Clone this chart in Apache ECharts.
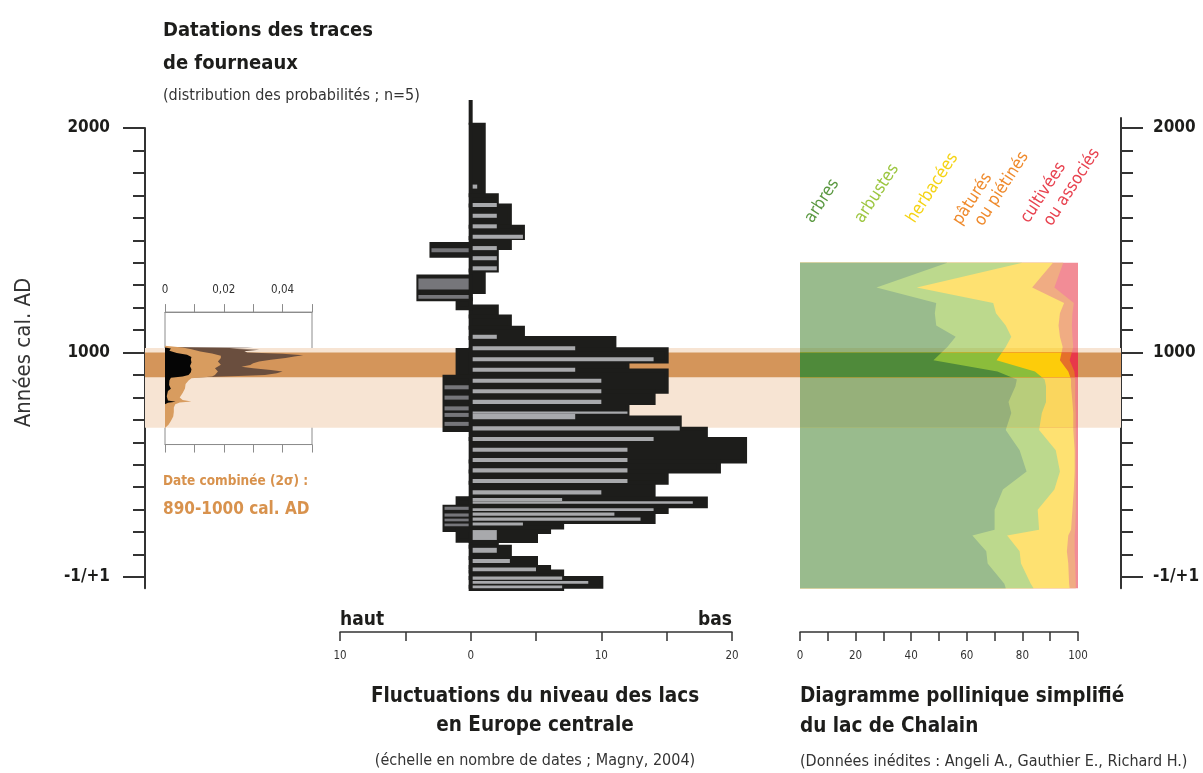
<!DOCTYPE html>
<html>
<head>
<meta charset="utf-8">
<script src="https://cdn.jsdelivr.net/npm/echarts@6/dist/echarts.min.js"></script>
<style>
html, body { margin: 0; padding: 0; background: #fff; }
#chart { width: 1203px; height: 773px; }
</style>
</head>
<body>
<div id="chart"></div>
<script>
const FONT = "'Liberation Sans Narrow', 'DejaVu Sans Condensed', Roboto, sans-serif";
const INK = '#1d1d1b';

// ---- Time axis (years cal. AD) ----
const yearMin = -50;
const yearMax = 2000;
const yearLabels = { 0: '-1/+1', 1000: '1000', 2000: '2000' };

// ---- Dating of the furnace traces ----
const combinedDate = [890, 1000];   // combined date, 2 sigma
const datingSpan = [665, 1020];     // spread of the individual dates

// probability distributions (year, probability)
const brownYears = [1025, 1021, 1017, 1012, 1006, 1000, 994, 988, 982, 975, 968, 960, 952, 944, 936, 930, 922, 915, 908, 900, 895, 890, 885];
const brownProb  = [0, 0.030, 0.022, 0.032, 0.027, 0.028, 0.040, 0.047, 0.044, 0.041, 0.036, 0.032, 0.030, 0.029, 0.026, 0.030, 0.036, 0.040, 0.038, 0.034, 0.025, 0.012, 0];

const tanYears = [1030, 1022, 1015, 1005, 995, 985, 975, 960, 945, 930, 915, 900, 893, 885, 875, 860, 840, 820, 800, 788, 782, 777, 770, 755, 735, 715, 695, 678, 664];
const tanProb  = [0, 0.006, 0.009, 0.012, 0.016, 0.019, 0.019, 0.018, 0.019, 0.017, 0.018, 0.017, 0.016, 0.009, 0.008, 0.007, 0.0068, 0.006, 0.005, 0.006, 0.009, 0.005, 0.0035, 0.003, 0.003, 0.0028, 0.002, 0.0012, 0];

const blackYears = [1022, 1018, 1008, 998, 990, 980, 970, 955, 940, 925, 912, 900, 893, 887, 875, 855, 838, 828, 805, 786, 781, 776, 770];
const blackProb  = [0, 0.002, 0.0015, 0.004, 0.0075, 0.009, 0.0088, 0.009, 0.0085, 0.009, 0.0088, 0.008, 0.006, 0.002, 0.0015, 0.0014, 0.002, 0.001, 0.0006, 0.001, 0.0036, 0.001, 0];

const probTicks = { 0: '0', 2: '0,02', 4: '0,04' };

// ---- Lake-level fluctuations (number of dates) ----
// [from year, to year, count]; low levels to the right, high levels to the left
const lowLevelBins = [
  [2125, 2015, 0], [2015, 1700, 1], [1700, 1655, 2], [1655, 1560, 3], [1560, 1510, 4],
  [1510, 1465, 3], [1465, 1365, 2], [1365, 1270, 1], [1270, 1205, 0], [1205, 1160, 2],
  [1160, 1110, 3], [1110, 1065, 4], [1065, 1015, 11], [1015, 960, 15], [960, 920, 12],
  [920, 825, 15], [825, 775, 14], [775, 710, 12], [710, 660, 16], [660, 615, 18],
  [615, 515, 21], [515, 470, 19], [470, 420, 15], [420, 350, 14], [350, 315, 18],
  [315, 290, 15], [290, 245, 14], [245, 220, 7], [220, 200, 6], [200, 160, 5],
  [160, 135, 2], [135, 85, 3], [85, 45, 5], [45, 25, 6], [25, -5, 7],
  [-5, -43, 10], [-43, -53, 7]
];
const highLevelBins = [
  [1483, 1431, -3], [1338, 1237, -4], [1237, 1197, -1], [1011, 892, -1],
  [892, 655, -2], [351, 313, -1], [313, 209, -2], [209, 162, -1]
];
const lowLevelDates = [
  [1748, 1730, 0.5], [1666, 1648, 2], [1618, 1600, 2], [1571, 1553, 2], [1525, 1507, 4],
  [1474, 1456, 2], [1429, 1411, 2], [1384, 1366, 2], [1079, 1061, 2], [1028, 1010, 8],
  [979, 961, 14], [932, 914, 8], [883, 865, 10], [836, 818, 10], [789, 771, 10],
  [737, 727, 12], [727, 703, 8], [671, 653, 16], [624, 606, 14], [576, 558, 12],
  [530, 512, 12], [484, 466, 12], [437, 419, 12], [386, 368, 10], [352, 339, 7],
  [337, 326, 17], [306, 294, 14], [287, 273, 11], [265, 251, 13], [243, 229, 4],
  [209, 165, 2], [130, 108, 2], [80, 62, 3], [42, 26, 5], [2, -12, 7],
  [-18, -30, 9], [-38, -50, 7]
];
const highLevelDates = [
  [1464, 1446, -3], [1330, 1281, -4], [1256, 1239, -4], [854, 836, -2], [808, 790, -2],
  [760, 742, -2], [731, 713, -2], [691, 673, -2], [313, 299, -2], [283, 269, -2],
  [260, 248, -2], [238, 226, -2]
];

// ---- Simplified pollen diagram, lac de Chalain (%) ----
const pollenYears = [1400, 1290, 1220, 1175, 1120, 1070, 1025, 965, 915, 880, 850, 780, 730, 655, 565, 470, 390, 300, 210, 185, 115, 60, -30, -50];
const arbres    = [53, 27.5, 49, 48.5, 49, 56, 53, 48, 71, 78, 77.5, 75, 76, 74, 79, 81.5, 73, 70, 70, 62, 67, 67.5, 73.5, 74];
const arbustes  = [27, 14.5, 20.5, 22, 25, 20, 21, 22.7, 13.5, 10, 11, 13.5, 11, 12, 13, 12, 18.5, 15.5, 16, 12.5, 12, 12, 9.5, 10];
const herbacees = [11, 41.5, 25.5, 23, 19, 17.5, 20.5, 22.8, 12, 9.5, 9, 9.5, 11.3, 12.3, 6.8, 5.3, 7, 12.5, 11.5, 22, 17, 17, 13.8, 13];
const paturees  = [3.7, 8, 3.5, 4.5, 4.8, 4.5, 3.8, 3.5, 2.2, 1.5, 1.5, 1, 0.9, 0.9, 0.4, 0.4, 0.7, 1.2, 1.5, 2.3, 2.8, 2.5, 2.4, 2.2];
const cultivees = [5.3, 8.5, 1.5, 2, 2.2, 2, 1.7, 3, 1.3, 1, 1, 1, 0.8, 0.8, 0.8, 0.8, 0.8, 0.8, 1, 1.2, 1.2, 1, 0.8, 0.8];
const pollenTaxa = [
  ['arbres'], ['arbustes'], ['herbacées'], ['pâturés', 'ou piétinés'], ['cultivées', 'ou associés']
];
const pollenSeries = [arbres, arbustes, herbacees, paturees, cultivees];

// ---- Colours ----
const taxonColors = ['#4f8a3a', '#8bbd3b', '#fdcc0a', '#e5702a', '#e8384a'];
const labelColors = ['#5a9840', '#9cc640', '#f5d313', '#ef8a2c', '#e8424f'];
const bandDark = '#d4955a';
const bandLight = '#f7e4d3';

function mix(hex, bg, a) {
  const p = h => [1, 3, 5].map(i => parseInt(h.slice(i, i + 2), 16));
  const c = p(hex), b = p(bg);
  return 'rgb(' + c.map((v, i) => Math.round(v * a + b[i] * (1 - a))).join(',') + ')';
}
const pollenAlpha = 0.58;

// ---- Layout (pixels) ----
const axisTop = 128, axisZero = 577;
const pxPerYear = (axisZero - axisTop) / 2000;
const plotBottom = axisZero + (0 - yearMin) * pxPerYear;
const plotHeight = plotBottom - axisTop;
const axisOffset = 632 - plotBottom;
const insetRange = [590, 1180];
const insetTop = axisTop + (yearMax - insetRange[1]) * pxPerYear;
const insetHeight = (insetRange[1] - insetRange[0]) * pxPerYear;

const chart = echarts.init(document.getElementById('chart'), null, { renderer: 'canvas' });

const tickStyle = { color: '#333', width: 2 };
const yearLabelStyle = { fontFamily: FONT, fontWeight: 'bold', fontSize: 17, color: INK };

// stacked pollen polygons; each layer spans 0..cumulative so edges never leave gaps
function pollenShapes(api, colors, clipYears) {
  const n = pollenYears.length;
  const cums = [];
  let run = new Array(n).fill(0);
  pollenSeries.forEach(vals => {
    run = run.map((c, i) => c + vals[i]);
    cums.push(run);
  });
  let clip = null;
  if (clipYears) {
    const a = api.coord([0, clipYears[1]]);
    const b = api.coord([100, clipYears[0]]);
    clip = { type: 'rect', shape: { x: a[0], y: a[1], width: b[0] - a[0], height: b[1] - a[1] } };
  }
  const children = [];
  for (let k = cums.length - 1; k >= 0; k--) {
    const pts = [];
    for (let i = 0; i < n; i++) pts.push(api.coord([cums[k][i], pollenYears[i]]));
    pts.push(api.coord([0, pollenYears[n - 1]]));
    pts.push(api.coord([0, pollenYears[0]]));
    const el = { type: 'polygon', shape: { points: pts }, style: { fill: colors[k] } };
    if (clip) el.clipPath = clip;
    children.push(el);
  }
  return { type: 'group', children };
}

function distributionShape(api, years, probs, color) {
  const pts = [api.coord([0, years[0]])];
  years.forEach((y, i) => pts.push(api.coord([probs[i], y])));
  pts.push(api.coord([0, years[years.length - 1]]));
  return { type: 'polygon', shape: { points: pts }, style: { fill: color } };
}

function binRect(api, inset, fill, stroke) {
  const top = api.value(0), bottom = api.value(1), v = api.value(2);
  const a = api.coord([0, top]);
  const b = api.coord([v, bottom]);
  let x0 = a[0], x1 = b[0];
  if (inset) x0 += v >= 0 ? 2 : -2;
  return {
    type: 'rect',
    shape: { x: Math.min(x0, x1), y: a[1], width: Math.abs(x1 - x0), height: b[1] - a[1] },
    style: stroke ? { fill, stroke, lineWidth: 4 } : { fill }
  };
}

function text(t, x, y, font, color, align) {
  return {
    type: 'text', x, y, silent: true,
    style: { text: t, font, fill: color, textAlign: align || 'left', align: align || 'left', textVerticalAlign: 'middle', verticalAlign: 'middle' }
  };
}

const rot = 57 * Math.PI / 180;
function taxonLabel(t, x, y, color) {
  return {
    type: 'text', x, y, rotation: rot, silent: true,
    style: { text: t, font: '17px ' + FONT, fill: color, textAlign: 'left', align: 'left', textVerticalAlign: 'bottom', verticalAlign: 'bottom' }
  };
}

const bottomAxis = (gridIndex, min, max, interval, every) => ({
  gridIndex, type: 'value', min, max, interval, position: 'bottom', offset: axisOffset,
  axisLine: { show: true, onZero: false, lineStyle: { color: '#333', width: 1.5 } },
  axisTick: { show: true, length: 9, lineStyle: { color: '#333', width: 1.5 } },
  splitLine: { show: false },
  axisLabel: { margin: 18, fontFamily: FONT, fontSize: 11.5, color: '#333',
    formatter: v => (v % every === 0 ? String(Math.abs(v)) : '') }
});

const option = {
  animation: false,
  backgroundColor: '#ffffff',
  grid: [
    { left: 145, top: axisTop, width: 976, height: axisZero - axisTop, outerBoundsMode: 'none' },     // 0 frame
    { left: 145, top: axisTop, width: 976, height: plotHeight, outerBoundsMode: 'none' },             // 1 left axis line
    { left: 145, top: axisTop - 10, width: 976, height: plotHeight + 10, outerBoundsMode: 'none' },   // 2 right axis line
    { left: 340, top: axisTop, width: 392, height: plotHeight, outerBoundsMode: 'none' },             // 3 lake levels
    { left: 800, top: axisTop, width: 278, height: plotHeight, outerBoundsMode: 'none' },             // 4 pollen
    { left: 165, top: insetTop, width: 147, height: insetHeight, outerBoundsMode: 'none',
      show: true, borderColor: '#8c8c8c', borderWidth: 1, backgroundColor: 'transparent' }          // 5 inset
  ],
  xAxis: [
    { gridIndex: 0, type: 'value', min: 0, max: 1, show: false },
    { gridIndex: 1, type: 'value', min: 0, max: 1, show: false },
    { gridIndex: 2, type: 'value', min: 0, max: 1, show: false },
    bottomAxis(3, -10, 20, 5, 10),
    bottomAxis(4, 0, 100, 10, 20),
    {
      gridIndex: 5, type: 'value', min: 0, max: 0.05, interval: 0.01, position: 'top',
      axisLine: { show: true, onZero: false, lineStyle: { color: '#8c8c8c', width: 1 } },
      axisTick: { show: true, length: 8, lineStyle: { color: '#8c8c8c', width: 1 } },
      splitLine: { show: false },
      axisLabel: { margin: 16, fontFamily: FONT, fontSize: 11.5, color: '#333',
        formatter: v => { const k = Math.round(v * 100); return probTicks[k] !== undefined ? probTicks[k] : ''; } }
    },
    {
      gridIndex: 5, type: 'value', min: 0, max: 0.05, interval: 0.01, position: 'bottom',
      axisLine: { show: true, onZero: false, lineStyle: { color: '#8c8c8c', width: 1 } },
      axisTick: { show: true, length: 8, lineStyle: { color: '#8c8c8c', width: 1 } },
      splitLine: { show: false }, axisLabel: { show: false }
    }
  ],
  yAxis: [
    {
      gridIndex: 0, type: 'value', min: 0, max: yearMax, interval: 1000, position: 'left',
      axisLine: { show: false },
      axisTick: { show: true, length: 22, lineStyle: tickStyle },
      minorTick: { show: true, splitNumber: 10, length: 12, lineStyle: tickStyle },
      splitLine: { show: false }, minorSplitLine: { show: false },
      axisLabel: Object.assign({ margin: 35, formatter: v => yearLabels[v] || '' }, yearLabelStyle),
      name: 'Années cal. AD', nameLocation: 'middle', nameRotate: 90, nameGap: 110,
      nameTextStyle: { fontFamily: FONT, fontSize: 22, color: '#333' }
    },
    {
      gridIndex: 0, type: 'value', min: 0, max: yearMax, interval: 1000, position: 'right',
      axisLine: { show: false },
      axisTick: { show: true, length: 22, lineStyle: tickStyle },
      minorTick: { show: true, splitNumber: 10, length: 12, lineStyle: tickStyle },
      splitLine: { show: false }, minorSplitLine: { show: false },
      axisLabel: Object.assign({ margin: 32, formatter: v => yearLabels[v] || '' }, yearLabelStyle)
    },
    { gridIndex: 1, type: 'value', min: yearMin, max: yearMax, position: 'left',
      axisLine: { show: true, onZero: false, lineStyle: tickStyle }, axisTick: { show: false }, axisLabel: { show: false }, splitLine: { show: false } },
    { gridIndex: 2, type: 'value', min: yearMin, max: yearMax + 10 / pxPerYear, position: 'right',
      axisLine: { show: true, onZero: false, lineStyle: tickStyle }, axisTick: { show: false }, axisLabel: { show: false }, splitLine: { show: false } },
    { gridIndex: 3, type: 'value', min: yearMin, max: yearMax, show: false },
    { gridIndex: 4, type: 'value', min: yearMin, max: yearMax, show: false },
    { gridIndex: 5, type: 'value', min: insetRange[0], max: insetRange[1], show: false }
  ],
  series: [
    // dating bands across the whole figure
    {
      type: 'custom', xAxisIndex: 0, yAxisIndex: 0, z: 1, silent: true,
      data: [
        { value: [datingSpan[1], datingSpan[0]], itemStyle: { color: bandLight } },
        { value: [combinedDate[1], combinedDate[0]], itemStyle: { color: bandDark } }
      ],
      renderItem: (params, api) => {
        const a = api.coord([0, api.value(0)]);
        const b = api.coord([1, api.value(1)]);
        return { type: 'rect', shape: { x: a[0], y: a[1], width: b[0] - a[0], height: b[1] - a[1] },
          style: { fill: api.visual('color') } };
      }
    },
    // pollen diagram: plain, inside the dating spread, inside the combined date
    {
      type: 'custom', xAxisIndex: 4, yAxisIndex: 5, z: 2, silent: true, data: [[0, 0]],
      renderItem: (params, api) => pollenShapes(api, taxonColors.map(c => mix(c, '#ffffff', pollenAlpha)), null)
    },
    {
      type: 'custom', xAxisIndex: 4, yAxisIndex: 5, z: 3, silent: true, data: [[0, 0]],
      renderItem: (params, api) => pollenShapes(api, taxonColors.map(c => mix(c, bandLight, pollenAlpha)), datingSpan)
    },
    {
      type: 'custom', xAxisIndex: 4, yAxisIndex: 5, z: 4, silent: true, data: [[0, 0]],
      renderItem: (params, api) => pollenShapes(api, taxonColors, combinedDate)
    },
    // lake levels: histogram of dates, then individual date bars
    {
      type: 'custom', xAxisIndex: 3, yAxisIndex: 4, z: 2, silent: true,
      data: lowLevelBins.concat(highLevelBins),
      renderItem: (params, api) => binRect(api, false, INK, INK)
    },
    {
      type: 'custom', xAxisIndex: 3, yAxisIndex: 4, z: 3, silent: true, data: lowLevelDates,
      renderItem: (params, api) => binRect(api, true, '#a8a9ac', null)
    },
    {
      type: 'custom', xAxisIndex: 3, yAxisIndex: 4, z: 3, silent: true, data: highLevelDates,
      renderItem: (params, api) => binRect(api, true, '#76767a', null)
    },
    // probability distributions of the furnace dates
    {
      type: 'custom', xAxisIndex: 5, yAxisIndex: 6, z: 2, silent: true, data: [[0, 0]],
      renderItem: (params, api) => ({ type: 'group', children: [
        distributionShape(api, brownYears, brownProb, '#6a4e3e'),
        distributionShape(api, tanYears, tanProb, '#d89c5f'),
        distributionShape(api, blackYears, blackProb, '#050505')
      ] })
    }
  ],
  graphic: { elements: [
    text('Datations des traces', 163, 31, 'bold 20px ' + FONT, INK),
    text('de fourneaux', 163, 64, 'bold 20px ' + FONT, INK),
    text('(distribution des probabilités ; n=5)', 163, 96, '16px ' + FONT, '#333'),
    text('Date combinée (2σ) :', 163, 481, 'bold 13.5px ' + FONT, '#d8924d'),
    text('890-1000 cal. AD', 163, 510, 'bold 17px ' + FONT, '#d8924d'),
    text('haut', 340, 620, 'bold 19px ' + FONT, INK),
    text('bas', 732, 620, 'bold 19px ' + FONT, INK, 'right'),
    text('Fluctuations du niveau des lacs', 535, 697, 'bold 20.5px ' + FONT, INK, 'center'),
    text('en Europe centrale', 535, 726, 'bold 20.5px ' + FONT, INK, 'center'),
    text('(échelle en nombre de dates ; Magny, 2004)', 535, 761, '16px ' + FONT, '#333', 'center'),
    text('Diagramme pollinique simplifié', 800, 697, 'bold 20.5px ' + FONT, INK),
    text('du lac de Chalain', 800, 727, 'bold 20.5px ' + FONT, INK),
    text('(Données inédites : Angeli A., Gauthier E., Richard H.)', 800, 762, '16px ' + FONT, '#333'),
    taxonLabel(pollenTaxa[0][0], 816, 226, labelColors[0]),
    taxonLabel(pollenTaxa[1][0], 866, 226, labelColors[1]),
    taxonLabel(pollenTaxa[2][0], 918, 226, labelColors[2]),
    taxonLabel(pollenTaxa[3][0], 964, 228, labelColors[3]),
    taxonLabel(pollenTaxa[3][1], 986, 229, labelColors[3]),
    taxonLabel(pollenTaxa[4][0], 1032, 226, labelColors[4]),
    taxonLabel(pollenTaxa[4][1], 1055, 229, labelColors[4])
  ] }
};

chart.setOption(option);
</script>
</body>
</html>
